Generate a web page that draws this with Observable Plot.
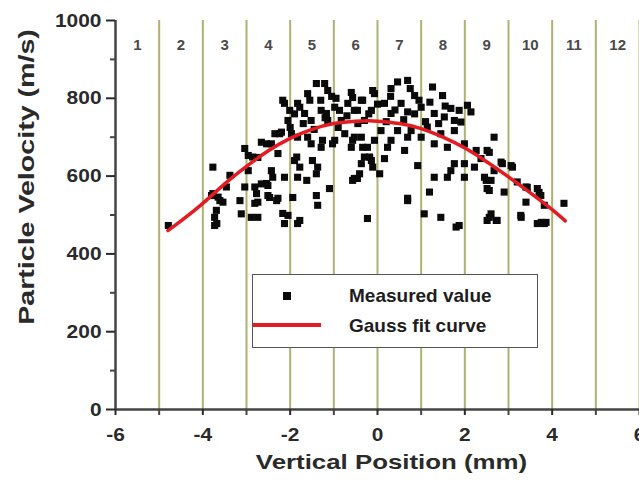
<!DOCTYPE html>
<html>
<head>
<meta charset="utf-8">
<script src="https://cdn.jsdelivr.net/npm/d3@7"></script>
<script src="https://cdn.jsdelivr.net/npm/@observablehq/plot@0.6"></script>
<style>
  html, body { margin: 0; padding: 0; background: #fff; }
  #wrap { position: relative; width: 639px; height: 481px; overflow: hidden; font-family: "Liberation Sans", Arial, sans-serif; }
  #legend { position: absolute; left: 252px; top: 274px; width: 284px; height: 72px; border: 1.5px solid #555; background: #fff; }
  .lg-row { position: absolute; left: 0; width: 100%; height: 24px; }
  .lg-label { position: absolute; left: 96px; top: 0; font-size: 19px; font-weight: bold; letter-spacing: 0px; line-height: 24px; color: #1e1e1e; white-space: nowrap; }
</style>
</head>
<body>
<div id="wrap"></div>
<script>
// ---- data ----
const xTicks = [-6, -4, -2, 0, 2, 4, 6];
const xMinor = [-5, -3, -1, 1, 3, 5];
const yTicks = [0, 200, 400, 600, 800, 1000];
const yMinor = [100, 300, 500, 700, 900];
const zoneEdges = [-6, -5, -4, -3, -2, -1, 0, 1, 2, 3, 4, 5, 6];
const zoneLabels = ["1", "2", "3", "4", "5", "6", "7", "8", "9", "10", "11", "12"];
const seriesNames = ["Measured value", "Gauss fit curve"];
const xTitle = "Vertical Position (mm)";
const yTitle = "Particle Velocity (m/s)";

// measured points [position mm, velocity m/s]
const measured = [
  [-4.79,473],
  [-3.77,623],[-3.38,602],[-3.04,671],[-2.96,653],[-2.74,648],[-3.46,572],[-3.80,550],[-3.65,546],[-3.54,533],
  [-3.69,512],[-3.73,494],[-3.73,473],[-3.15,537],[-3.12,503],[-2.89,494],[-2.96,614],[-2.81,572],[-3.04,572],[-2.81,530],
  [-3.77,555],[-3.61,537],[-3.68,478],[-2.86,649],[-2.54,581],[-2.77,555],[-2.47,545],[-2.31,537],[-2.17,504],[-1.78,486],
  [-1.94,545],[-2.40,597],[-2.17,795],[-2.01,769],[-1.78,777],[-1.55,795],[-1.40,838],[-2.24,709],[-2.54,683],[-1.85,649],
  [-1.49,640],[-1.78,623],[-1.62,589],[-1.40,606],
  [-2.13,787],[-1.60,812],[-1.14,820],[-1.83,787],[-1.67,761],[-1.29,769],[-0.98,777],[-0.68,787],[-0.53,769],[-2.05,743],
  [-1.52,743],[-1.14,743],[-0.83,743],[-2.35,709],[-2.20,713],[-1.97,709],[-2.66,687],[-2.43,683],[-1.83,700],[-1.52,683],
  [-1.29,674],[-0.98,692],[-0.75,709],[-0.53,700],[-0.60,674],[-2.28,658],[-1.90,640],[-1.37,623],[-2.43,614],[-2.13,597],
  [-1.83,597],[-2.66,580],[-2.51,576],[-0.53,594],[-1.10,568],[-2.51,550],[-2.28,543],[-2.74,533],[-1.40,550],[-1.37,525],
  [-2.05,499],[-2.13,478],[-1.83,478],[-2.74,494],
  [-1.21,838],[-1.05,805],[-0.57,802],[-0.34,795],[-0.11,820],[-0.87,769],[-1.17,761],[-1.26,692],[-1.03,683],[-0.57,692],
  [-0.34,674],[-0.18,649],[-0.11,623],[-0.41,606],[-0.57,589],[-0.23,491],[0.69,537],[2.56,661],[2.49,589],[2.56,563],
  [2.86,632],[3.09,623],[3.43,571],[3.70,558],[2.56,494],[2.72,486],[3.29,494],[3.75,481],[3.86,481],
  [0.46,842],[0.69,846],[1.26,829],[1.49,807],[0.85,807],[0.31,825],[-0.07,812],[-0.37,795],[0.16,787],[0.54,787],
  [1.00,777],[1.68,774],[-0.46,769],[-0.14,769],[0.31,761],[0.69,765],[1.30,761],[1.53,752],[1.76,743],[-0.30,743],
  [0.08,717],[0.46,717],[0.77,717],[1.14,726],[1.45,709],[1.76,717],[-0.37,700],[-0.07,692],[0.31,692],[0.69,700],
  [1.00,700],[1.30,683],[-0.23,674],[0.23,674],[0.62,666],[1.60,674],[-0.30,649],[0.16,645],[-0.37,632],[-0.14,640],
  [1.76,632],[0.92,627],[1.68,614],[-0.46,594],[0.05,606],[1.30,597],[1.60,597],[1.19,559],[0.69,543],[1.07,503],
  [1.45,494],[1.80,469],
  [2.06,782],[2.14,765],[1.87,769],[1.91,739],[2.67,700],[1.99,683],[2.26,666],[2.51,666],[2.37,645],[1.99,632],
  [2.22,623],[2.83,636],[3.06,627],[2.67,614],[1.99,597],[2.45,597],[2.60,589],[3.20,585],[3.40,572],[3.66,568],
  [2.51,568],[2.90,559],[3.74,550],[3.40,533],[3.82,525],[4.27,530],[3.28,499],[2.51,486],[2.74,486],[2.60,503],
  [3.66,478],[3.82,478],[1.87,473],
  [-1.90,760],[-1.70,735],[-1.45,720],[-1.20,750],[-0.90,725],[-0.70,755],[-0.45,735],[-0.20,760],[0.00,785],[0.20,740],
  [0.40,770],[0.60,745],[0.85,760],[1.10,740],[1.20,790],[1.40,735],[0.95,795],[-0.60,815],[-1.60,700],[-2.00,725],
  [-1.30,795],[0.30,805],[0.75,825],[1.55,780],[-0.95,800]
];

// Gauss fit curve
const fitX = [-4.8, -4.5, -4, -3.5, -3, -2.5, -2, -1.5, -1, -0.5, -0.2, 0, 0.5, 1, 1.5, 2, 2.5, 3, 3.5, 4, 4.3];
const fitY = [460, 485, 530, 580, 625, 665, 697, 720, 735, 741, 742, 741, 735, 722, 700, 672, 637, 598, 557, 514, 485];

// ---- chart ----
const fit = fitX.map((x, i) => ({x, y: fitY[i]}));
const pts = measured.map(([x, y]) => ({x, y}));
const zoneMids = zoneLabels.map((t, i) => ({t, x: (zoneEdges[i] + zoneEdges[i + 1]) / 2}));
const plain = d => String(d);

const chart = Plot.plot({
  width: 639,
  height: 481,
  marginLeft: 115,
  marginRight: 0,
  marginTop: 20,
  marginBottom: 72,
  x: {domain: [-6, 6]},
  y: {domain: [0, 1000]},
  style: {fontFamily: "'Liberation Sans', Arial, sans-serif", background: "transparent", overflow: "visible"},
  marks: [
    Plot.ruleX(zoneEdges.slice(1), {stroke: "#aeb170", strokeWidth: 2}),
    Plot.text(zoneMids, {x: "x", text: "t", frameAnchor: "top", dy: 19, fontSize: 15, fontWeight: "bold", fill: "#4a4a4a"}),
    Plot.dot(pts, {x: "x", y: "y", symbol: "square", r: 4, fill: "#0a0a0a", stroke: "none"}),
    Plot.line(fit, {x: "x", y: "y", stroke: "#e51b22", strokeWidth: 3.5, curve: "natural"}),
    Plot.ruleX([-6], {stroke: "#444", strokeWidth: 2.5}),
    Plot.ruleY([0], {stroke: "#444", strokeWidth: 2.5}),
    Plot.axisY(yTicks, {tickSize: 9, tickPadding: 5, tickFormat: plain, fontSize: 19, fontWeight: "bold", color: "#2a2a2a", strokeWidth: 2, label: null}),
    Plot.axisY(yMinor, {tickSize: 5, tickFormat: () => "", color: "#444", strokeWidth: 2, label: null}),
    Plot.axisX(xTicks, {tickSize: 6, tickPadding: 12, tickFormat: plain, fontSize: 19, fontWeight: "bold", color: "#2a2a2a", strokeWidth: 2, label: null}),
    Plot.axisX(xMinor, {tickSize: 6, tickFormat: () => "", color: "#444", strokeWidth: 2, label: null}),
    Plot.text([yTitle], {frameAnchor: "left", textAnchor: "middle", lineAnchor: "middle", rotate: -90, dx: -89, dy: -38, fontSize: 22, fontWeight: "bold", fill: "#2a2a2a"}),
    Plot.text([xTitle], {frameAnchor: "bottom", textAnchor: "middle", dx: 14, dy: 59, fontSize: 21, fontWeight: "bold", fill: "#2a2a2a"})
  ]
});

const wrap = document.getElementById("wrap");
wrap.appendChild(chart);

// widen glyphs to match the reference's broad bold lettering
function stretchText(test, factor) {
  chart.querySelectorAll("text").forEach(t => {
    if (!test(t)) return;
    const L = t.getComputedTextLength();
    if (L > 0) {
      t.setAttribute("textLength", (L * factor).toFixed(1));
      t.setAttribute("lengthAdjust", "spacingAndGlyphs");
    }
  });
}
stretchText(t => t.textContent === yTitle, 1.3);
stretchText(t => t.textContent === xTitle, 1.23);
stretchText(t => {
  const g = t.closest("g[aria-label]");
  return g && /axis tick label/.test(g.getAttribute("aria-label"));
}, 1.1);

// legend overlay
const legend = document.createElement("div");
legend.id = "legend";
legend.innerHTML = `
  <div class="lg-row" style="top:9px">
    <div style="position:absolute;left:30px;top:8px;width:8px;height:8px;background:#0a0a0a"></div>
    <div class="lg-label">${seriesNames[0]}</div>
  </div>
  <div class="lg-row" style="top:39px">
    <div style="position:absolute;left:0px;top:9px;width:68px;height:4px;background:#e51b22"></div>
    <div class="lg-label">${seriesNames[1]}</div>
  </div>`;
wrap.appendChild(legend);
</script>
</body>
</html>
